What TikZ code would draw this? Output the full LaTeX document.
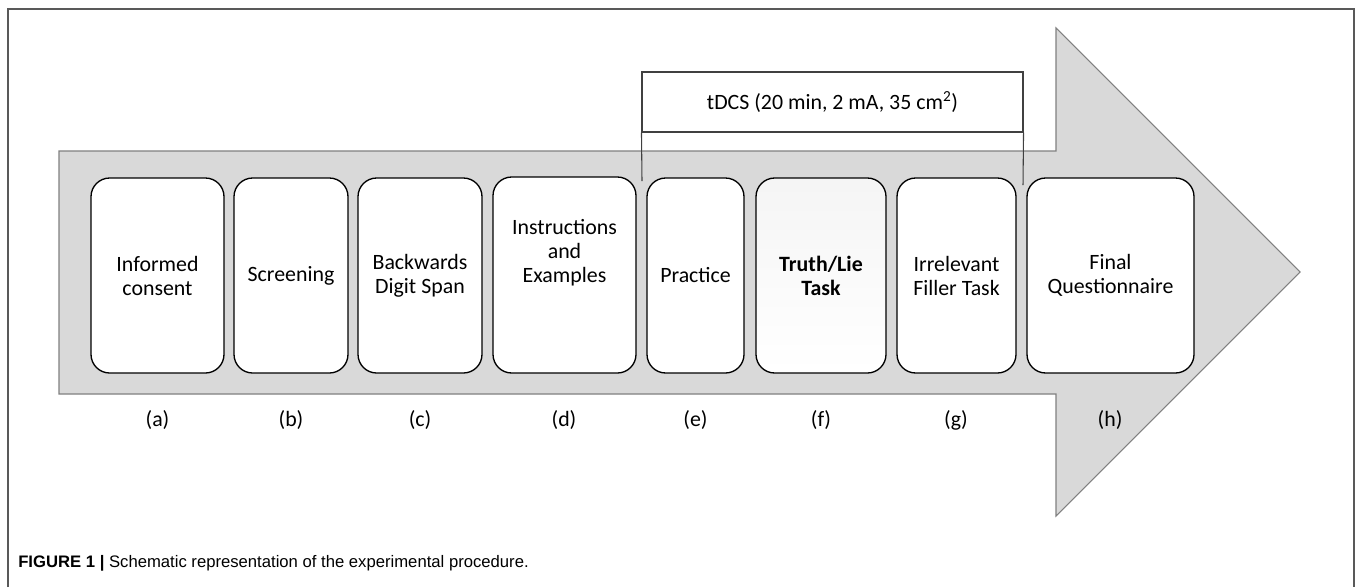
\documentclass[tikz,border=0pt]{standalone}
\usepackage{fontspec}
\setmainfont{Carlito}
\newfontfamily\capfont{Liberation Sans}
\begin{document}
\begin{tikzpicture}[x=0.75pt,y=-0.75pt,
  stagebox/.style={draw=black, line width=1pt, fill=white, rounded corners=14pt,
    align=center, inner sep=0pt, font=\fontsize{16.4pt}{18pt}\selectfont, minimum height=195*0.75pt},
  lbl/.style={font=\fontsize{16.4pt}{18pt}\selectfont, inner sep=0pt},
  bracket/.style={draw=black!75, line width=0.8pt}]
\useasboundingbox (0,0) rectangle (1358,587);
% frame
\draw[draw=black!65, line width=1.1pt] (8,587) -- (8,9) -- (1354,9) -- (1354,587);
% big arrow
\draw[fill=black!15, draw=black!50, line width=0.8pt]
  (59,151) -- (1056,151) -- (1056,28) -- (1300,272) -- (1056,516) -- (1056,394) -- (59,394) -- cycle;
% tDCS box
\node[bracket, minimum width=381*0.75pt, minimum height=60*0.75pt, inner sep=0pt,
  font=\fontsize{16.4pt}{18pt}\selectfont] (tdcs) at (832.5,102) {tDCS (20 min, 2 mA, 35 cm\textsuperscript{2})};
\coordinate (tl) at (642,181);
\coordinate (tr) at (1023,185);
\draw[bracket] (tdcs.south west) -- (tl);
\draw[bracket] (tdcs.south east) -- (tr);
% stages
\node[stagebox, minimum width=133*0.75pt] (a) at (157.5,275.5) {Informed\\consent};
\node[stagebox, minimum width=114*0.75pt] (b) at (291,275.5) {Screening};
\node[stagebox, minimum width=124*0.75pt] (c) at (420,275.5) {Backwards\\Digit Span};
\node[stagebox, minimum width=143*0.75pt, minimum height=196*0.75pt] (d) at (564.5,275) {Instructions\\and\\Examples\\\mbox{}\\\mbox{}};
\node[stagebox, minimum width=97*0.75pt] (e) at (695.5,275.5) {Practice};
\node[stagebox, minimum width=130*0.75pt, top color=black!4, bottom color=white] (f) at (821,275.5) {\textbf{Truth/Lie}\\\textbf{Task}};
\node[stagebox, minimum width=119*0.75pt] (g) at (956.5,275.5) {Irrelevant\\Filler Task};
\node[stagebox, minimum width=167*0.75pt] (h) at (1110.5,275.5) {Final\\Questionnaire};
% letters
\node[lbl] (la) at (157.5,420) {(a)};
\node[lbl] (lb) at (291,420) {(b)};
\node[lbl] (lc) at (420,420) {(c)};
\node[lbl] (ld) at (564,420) {(d)};
\node[lbl] (le) at (695.5,420) {(e)};
\node[lbl] (lf) at (821,420) {(f)};
\node[lbl] (lg) at (956,420) {(g)};
\node[lbl] (lh) at (1110,420) {(h)};
% caption
\node[anchor=west, inner sep=0pt, font=\capfont\fontsize{12.5pt}{14pt}\selectfont] (cap) at (18,563)
  {\textbf{FIGURE 1 |} Schematic representation of the experimental procedure.};
\end{tikzpicture}
\end{document}
